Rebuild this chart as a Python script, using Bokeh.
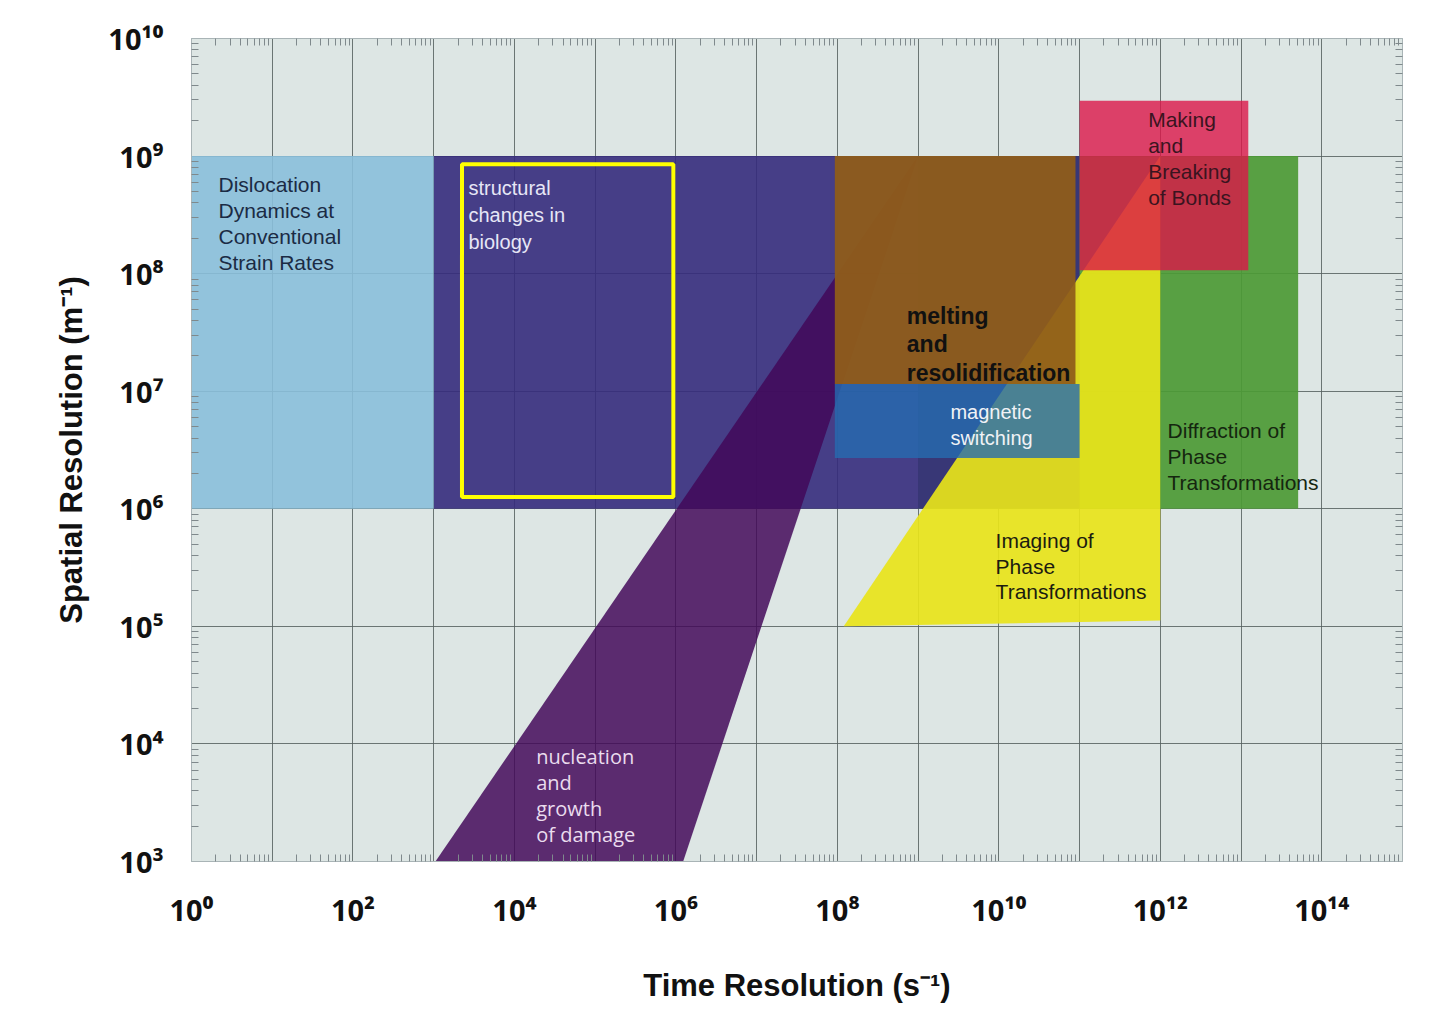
from bokeh.plotting import figure
from bokeh.models import FixedTicker, LogAxis
from bokeh.core.properties import value
from bokeh.embed import file_html
from bokeh.resources import INLINE

# ---------------- data (time resolution s^-1, spatial resolution m^-1) ----------------
decades_x = [10**k for k in range(0, 16)]
decades_y = [10**k for k in range(3, 11)]
x_label_ticks = [10**k for k in range(0, 15, 2)]
x_tick_labels = ["10⁰", "10²", "10⁴", "10⁶", "10⁸", "10¹⁰", "10¹²", "10¹⁴"]
y_label_ticks = [10**k for k in range(3, 11)]
y_tick_labels = ["10³", "10⁴", "10⁵", "10⁶", "10⁷", "10⁸", "10⁹", "10¹⁰"]

diffraction_t = [1e9, 5.1e13]
diffraction_s = [1e6, 1e9]
biology_band_t = [1e3, 1e11]
biology_band_s = [1e6, 1e9]
dislocation_t = [1e0, 1e3]
dislocation_s = [1e6, 1e9]
damage_t = [1.05e3, 1.23e6, 1e9]
damage_s = [1e3, 1e3, 1e9]
imaging_t = [1.2e8, 1e12, 1e12]
imaging_s = [1e5, 1.12e5, 1e9]
magnetic_t = [9.3e7, 1e11]
magnetic_s = [2.7e6, 1.15e7]
melting_t = [9.3e7, 8.9e10]
melting_s = [1.15e7, 1e9]
bonds_t = [1e11, 1.23e13]
bonds_s = [1.07e8, 2.95e9]
highlight_t = [2.24e3, 9.3e5]
highlight_s = [1.26e6, 8.5e8]

minor_x = [m * 10**k for k in range(0, 15) for m in range(2, 10)]
minor_y = [m * 10**k for k in range(3, 10) for m in range(2, 10)]

# ---------------- figure ----------------
p = figure(width=1430, height=1020, x_axis_type="log", y_axis_type="log",
           x_range=(1, 1e15), y_range=(1e3, 1e10),
           output_backend="svg", toolbar_location=None,
           min_border_left=191, min_border_right=28, min_border_top=38, min_border_bottom=159)
p.background_fill_color = "#dde6e4"
p.border_fill_color = "white"
p.outline_line_color = "#a9b4b6"

# grid every decade
p.xgrid.ticker = FixedTicker(ticks=decades_x)
p.ygrid.ticker = FixedTicker(ticks=decades_y)
for g in (p.xgrid, p.ygrid):
    g.grid_line_color = "#56605f"
    g.grid_line_alpha = 0.85
    g.grid_line_width = 1

FONT = "Liberation Sans"
TICK_FONT = "Noto Sans"

def style_axis(ax, ticks, minors, labels=None):
    ax.ticker = FixedTicker(ticks=ticks, minor_ticks=minors)
    ax.major_tick_in = 0
    ax.major_tick_out = 0
    ax.minor_tick_in = 7
    ax.minor_tick_out = 0
    ax.minor_tick_line_color = "#7f898c"
    ax.axis_line_color = "#a9b4b6"
    ax.major_label_text_font = TICK_FONT
    ax.major_label_text_font_style = "bold"
    ax.major_label_text_font_size = "29px"
    ax.major_label_text_color = "#111111"
    ax.major_label_standoff = 28
    if labels is not None:
        ax.major_label_overrides = {t: l for t, l in zip(ticks, labels)}

xa = p.xaxis[0]
ya = p.yaxis[0]
style_axis(xa, x_label_ticks, minor_x, x_tick_labels)
style_axis(ya, y_label_ticks, minor_y, y_tick_labels)
xa.axis_label = "Time Resolution (s⁻¹)"
ya.axis_label = "Spatial Resolution (m⁻¹)"
for ax, st in ((xa, 36), (ya, 16)):
    ax.axis_label_text_font = FONT
    ax.axis_label_text_font_style = "bold"
    ax.axis_label_text_font_size = "31px"
    ax.axis_label_text_color = "#111111"
    ax.axis_label_standoff = st

top_ax = LogAxis()
style_axis(top_ax, [], minor_x)
right_ax = LogAxis()
style_axis(right_ax, [], minor_y)
p.add_layout(top_ax, "above")
p.add_layout(right_ax, "right")

# ---------------- regions ----------------
p.quad(left=diffraction_t[0], right=diffraction_t[1], bottom=diffraction_s[0], top=diffraction_s[1],
       fill_color="#4c9a35", fill_alpha=0.92, line_color=None)
p.quad(left=biology_band_t[0], right=biology_band_t[1], bottom=biology_band_s[0], top=biology_band_s[1],
       fill_color="#352b7c", fill_alpha=0.9, line_color=None)
p.quad(left=dislocation_t[0], right=dislocation_t[1], bottom=dislocation_s[0], top=dislocation_s[1],
       fill_color="#89bfda", fill_alpha=0.9, line_color=None)
p.patch(damage_t, damage_s, fill_color="#410758", fill_alpha=0.84, line_color=None)
p.patch(imaging_t, imaging_s, fill_color="#e8e41a", fill_alpha=0.92, line_color=None)
p.quad(left=magnetic_t[0], right=magnetic_t[1], bottom=magnetic_s[0], top=magnetic_s[1],
       fill_color="#266bb0", fill_alpha=0.8, line_color=None)
p.quad(left=melting_t[0], right=melting_t[1], bottom=melting_s[0], top=melting_s[1],
       fill_color="#8f5c1a", fill_alpha=0.94, line_color=None)
p.quad(left=bonds_t[0], right=bonds_t[1], bottom=bonds_s[0], top=bonds_s[1],
       fill_color="#dc1649", fill_alpha=0.8, line_color=None)
p.quad(left=highlight_t[0], right=highlight_t[1], bottom=highlight_s[0], top=highlight_s[1],
       fill_color=None, line_color="#ffff00", line_width=4)

# ---------------- labels ----------------
def label(x, y, txt, color, size, style="normal", font=FONT, lh=1.12):
    p.text(x=[x], y=[y], text=[txt], text_font=value(font), text_font_size=size,
           text_font_style=style, text_color=color, text_baseline="top",
           text_align="left", text_line_height=lh)

label(10**0.334, 10**8.86, "Dislocation\nDynamics at\nConventional\nStrain Rates", "#1b2b44", "21px", lh=1.13)
label(10**3.43, 10**8.82, "structural\nchanges in\nbiology", "#e6e6f6", "20px", lh=1.22)
label(10**8.86, 10**7.75, "melting\nand\nresolidification", "#111111", "23px", style="bold", lh=1.09)
label(10**9.40, 10**6.92, "magnetic\nswitching", "#f0f2f6", "20px", lh=1.18)
label(10**11.85, 10**9.405, "Making\nand\nBreaking\nof Bonds", "#3a1420", "21px", lh=1.12)
label(10**12.09, 10**6.76, "Diffraction of\nPhase\nTransformations", "#15260f", "21px", lh=1.12)
label(10**9.96, 10**5.83, "Imaging of\nPhase\nTransformations", "#1c1c10", "21px", lh=1.12)
label(10**4.27, 10**4.01, "nucleation\nand\ngrowth\nof  damage", "#eadcee", "20px", font="Open Sans", lh=0.97)

open("out.html", "w").write(file_html(p, INLINE))
